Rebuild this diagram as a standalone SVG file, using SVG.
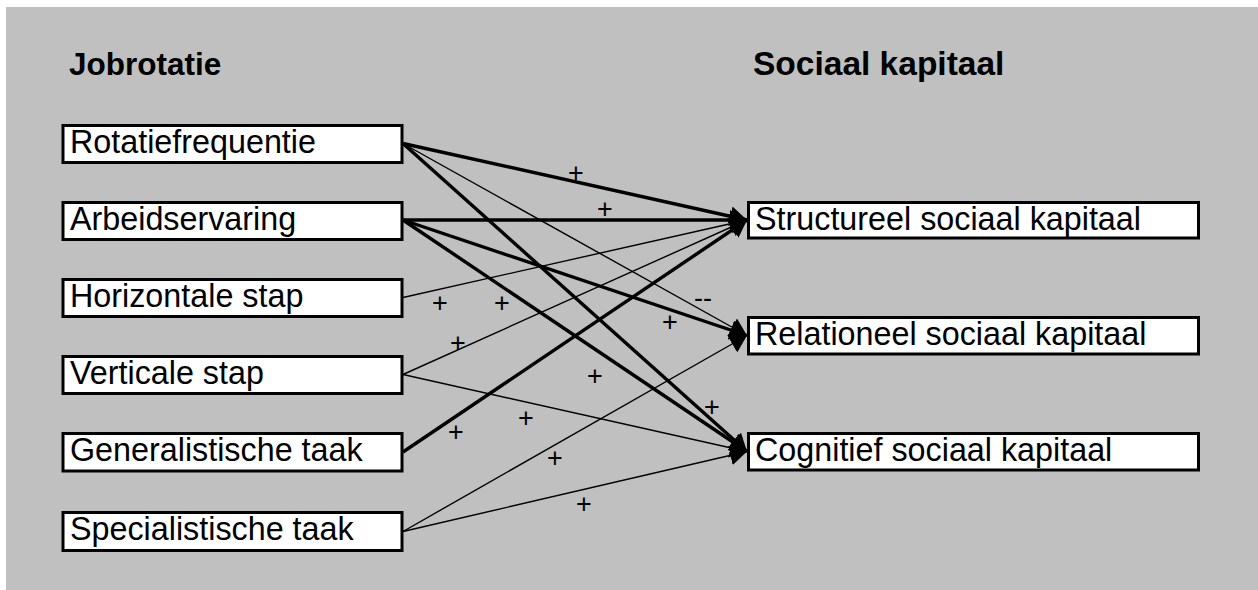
<svg xmlns="http://www.w3.org/2000/svg" width="1258" height="590" viewBox="0 0 1258 590">
<style>
.box{fill:#fff;stroke:#000;stroke-width:3}
.lbl{font-family:"Liberation Sans",Arial,sans-serif;font-size:32.3px;fill:#000}
.ttl{font-family:"Liberation Sans",Arial,sans-serif;font-weight:bold;fill:#000}
.thick{stroke:#000;stroke-width:3.4;fill:none;marker-end:url(#ah)}
.thin{stroke:#000;stroke-width:1.4;fill:none;marker-end:url(#ah)}
.sign{font-family:"Liberation Sans",Arial,sans-serif;font-size:27px;fill:#000;text-anchor:middle}
</style>
<defs>
<marker id="ah" markerUnits="userSpaceOnUse" viewBox="0 0 17 20" markerWidth="17" markerHeight="20" refX="17" refY="10" orient="auto">
<path d="M0,0 L17,10 L0,20 z" fill="#000"/>
</marker>
</defs>
<rect x="6" y="7" width="1252" height="583" fill="#c0c0c0"/>
<text class="ttl" x="69" y="75" font-size="31.5">Jobrotatie</text>
<text class="ttl" x="753" y="75" font-size="33.5">Sociaal kapitaal</text>
<g id="connectors">
<line class="thick" x1="403" y1="143.5" x2="747" y2="220"/>
<line class="thin" x1="403" y1="143.5" x2="747" y2="335.5"/>
<line class="thick" x1="403" y1="143.5" x2="747" y2="451.5"/>
<line class="thick" x1="403" y1="220" x2="747" y2="220"/>
<line class="thick" x1="403" y1="220" x2="747" y2="335.5"/>
<line class="thick" x1="403" y1="220" x2="747" y2="451.5"/>
<line class="thin" x1="403" y1="297.5" x2="747" y2="220"/>
<line class="thin" x1="403" y1="374.5" x2="747" y2="220"/>
<line class="thin" x1="403" y1="374.5" x2="747" y2="451.5"/>
<line class="thick" x1="403" y1="452" x2="747" y2="220"/>
<line class="thin" x1="403" y1="531.5" x2="747" y2="335.5"/>
<line class="thin" x1="403" y1="531.5" x2="747" y2="451.5"/>
<text class="sign" x="576" y="182">+</text>
<text class="sign" x="605" y="218">+</text>
<text class="sign" x="440" y="312">+</text>
<text class="sign" x="502" y="312">+</text>
<text class="sign" x="703" y="307">--</text>
<text class="sign" x="670" y="331">+</text>
<text class="sign" x="458" y="352">+</text>
<text class="sign" x="595" y="385">+</text>
<text class="sign" x="712" y="416">+</text>
<text class="sign" x="526" y="427">+</text>
<text class="sign" x="456" y="441">+</text>
<text class="sign" x="555" y="467">+</text>
<text class="sign" x="584" y="513">+</text>
</g>
<g id="n-rotatiefrequentie"><rect class="box" x="63" y="125.5" width="339" height="37"/><text class="lbl" x="70" y="153">Rotatiefrequentie</text></g>
<g id="n-arbeidservaring"><rect class="box" x="63" y="202.5" width="339" height="37"/><text class="lbl" x="70" y="230">Arbeidservaring</text></g>
<g id="n-horizontale"><rect class="box" x="63" y="279.5" width="339" height="37"/><text class="lbl" x="70" y="307">Horizontale stap</text></g>
<g id="n-verticale"><rect class="box" x="63" y="356.5" width="339" height="37"/><text class="lbl" x="70" y="384">Verticale stap</text></g>
<g id="n-generalistische"><rect class="box" x="63" y="433.5" width="339" height="37.5"/><text class="lbl" x="70" y="461">Generalistische taak</text></g>
<g id="n-specialistische"><rect class="box" x="63" y="512.5" width="339" height="38"/><text class="lbl" x="70" y="540">Specialistische taak</text></g>
<g id="n-structureel"><rect class="box" x="748.5" y="202.5" width="450" height="35.5"/><text class="lbl" x="755" y="230">Structureel sociaal kapitaal</text></g>
<g id="n-relationeel"><rect class="box" x="748.5" y="317.5" width="450" height="36.5"/><text class="lbl" x="755" y="345">Relationeel sociaal kapitaal</text></g>
<g id="n-cognitief"><rect class="box" x="748.5" y="433.5" width="450" height="36.5"/><text class="lbl" x="755" y="461">Cognitief sociaal kapitaal</text></g>
</svg>
